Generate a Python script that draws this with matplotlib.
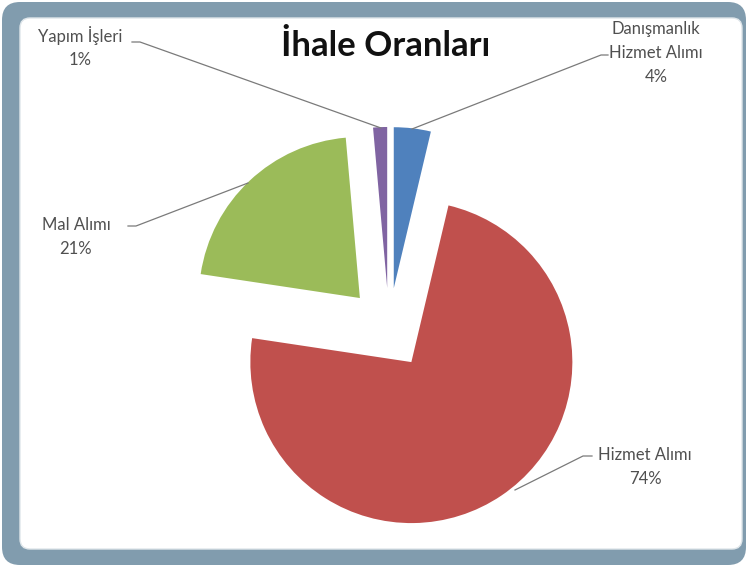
import matplotlib
matplotlib.use("Agg")
import matplotlib.pyplot as plt
from matplotlib.patches import FancyBboxPatch

categories = ["Danışmanlık\nHizmet Alımı", "Hizmet Alımı", "Mal Alımı", "Yapım İşleri"]
values = [3.7, 73.6, 21.2, 1.4]
colors = ["#4f81bd", "#c0504d", "#9bbb59", "#8064a2"]
explode_frac = [0.255, 0.248, 0.264, 0.255]
title = "İhale Oranları"

W, H = 748, 567
fig = plt.figure(figsize=(W / 100, H / 100), dpi=100)
fig.patch.set_facecolor("white")
ax = fig.add_axes([0, 0, 1, 1])

def Y(y):
    return H - y

# pie
cx, cy, r = 389, 329, 161
ax.pie(values, colors=colors, explode=[e * r for e in explode_frac], startangle=90,
       counterclock=False, center=(cx, Y(cy)), radius=r, frame=False,
       wedgeprops=dict(linewidth=0, zorder=2))
ax.set_xlim(0, W)
ax.set_ylim(0, H)
ax.set_aspect("auto")
ax.axis("off")

# frame
outer = FancyBboxPatch((2, 2), W - 4, H - 4, boxstyle="round,pad=0,rounding_size=18",
                       fc="#819cae", ec="none", transform=ax.transData, zorder=0)
ax.add_patch(outer)
inner = FancyBboxPatch((20, Y(549)), 722, 549 - 18, boxstyle="round,pad=0,rounding_size=10",
                       fc="white", ec="#dfe6ea", lw=1.0, transform=ax.transData, zorder=1)
ax.add_patch(inner)

# title
ax.text(386, Y(46), title, fontsize=25, fontweight="bold", family=["Lato", "DejaVu Sans"],
        ha="center", va="center", color="#111111", zorder=5)

lab_kw = dict(fontsize=12, family=["Lato", "DejaVu Sans"], color="#505050",
              ha="center", va="center", linespacing=1.6, zorder=5)
lc = "#7a7a7a"

def pct(v):
    return f"{round(v)}%"

# Yapım İşleri
ax.text(80, Y(47), f"{categories[3]}\n{pct(values[3])}", **lab_kw)
ax.plot([132, 140, 381], [Y(42), Y(42), Y(128)], color=lc, lw=0.9, zorder=4)
# Danışmanlık
ax.text(656, Y(53), f"{categories[0]}\n{pct(values[0])}", **lab_kw)
ax.plot([608, 601, 412], [Y(55), Y(55), Y(129)], color=lc, lw=0.9, zorder=4)
# Mal Alımı
ax.text(76, Y(237), f"{categories[2]}\n{pct(values[2])}", **lab_kw)
ax.plot([128, 136, 248], [Y(226), Y(226), Y(183)], color=lc, lw=0.9, zorder=4)
# Hizmet Alımı
ax.text(645, Y(467), f"{categories[1]}\n{pct(values[1])}", **lab_kw)
ax.plot([592, 583, 515], [Y(456), Y(456), Y(490)], color=lc, lw=0.9, zorder=4)

fig.savefig("out.png", dpi=100)
